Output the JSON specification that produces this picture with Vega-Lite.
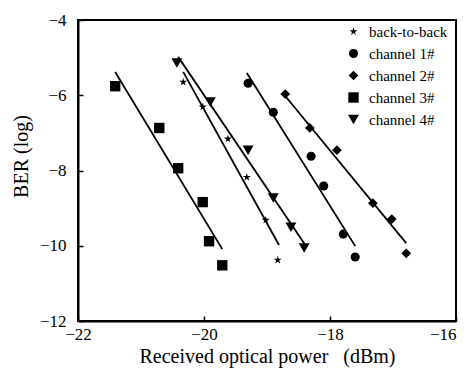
{
  "$schema": "https://vega.github.io/schema/vega-lite/v6.json",
  "width": 378,
  "height": 301,
  "autosize": "none",
  "padding": {"left": 78, "top": 20, "right": 12, "bottom": 47},
  "background": "white",
  "config": {
    "font": "Liberation Serif",
    "view": {"stroke": "black", "strokeWidth": 2},
    "axis": {
      "labelFont": "Liberation Serif",
      "titleFont": "Liberation Serif",
      "labelFontSize": 17,
      "titleFontSize": 20,
      "titleFontWeight": "normal",
      "labelColor": "black",
      "titleColor": "black",
      "domainColor": "black",
      "domainWidth": 2,
      "tickColor": "black",
      "tickWidth": 1.5,
      "labelFlush": false,
      "grid": false
    },
    "legend": {
      "labelFont": "Liberation Serif",
      "labelFontSize": 15,
      "labelColor": "black"
    }
  },
  "datasets": {
    "pts": [
      {"series": "back-to-back", "power": -20.33, "ber": -5.65},
      {"series": "back-to-back", "power": -20.02, "ber": -6.31},
      {"series": "back-to-back", "power": -19.62, "ber": -7.16},
      {"series": "back-to-back", "power": -19.32, "ber": -8.18},
      {"series": "back-to-back", "power": -19.02, "ber": -9.32},
      {"series": "back-to-back", "power": -18.83, "ber": -10.38},
      {"series": "channel 1#", "power": -19.30, "ber": -5.68},
      {"series": "channel 1#", "power": -18.90, "ber": -6.45},
      {"series": "channel 1#", "power": -18.30, "ber": -7.62},
      {"series": "channel 1#", "power": -18.10, "ber": -8.41},
      {"series": "channel 1#", "power": -17.79, "ber": -9.69},
      {"series": "channel 1#", "power": -17.60, "ber": -10.30},
      {"series": "channel 2#", "power": -18.71, "ber": -5.97},
      {"series": "channel 2#", "power": -18.32, "ber": -6.87},
      {"series": "channel 2#", "power": -17.89, "ber": -7.46},
      {"series": "channel 2#", "power": -17.32, "ber": -8.87},
      {"series": "channel 2#", "power": -17.02, "ber": -9.29},
      {"series": "channel 2#", "power": -16.79, "ber": -10.20},
      {"series": "channel 3#", "power": -21.41, "ber": -5.76},
      {"series": "channel 3#", "power": -20.71, "ber": -6.87},
      {"series": "channel 3#", "power": -20.41, "ber": -7.94},
      {"series": "channel 3#", "power": -20.02, "ber": -8.84},
      {"series": "channel 3#", "power": -19.92, "ber": -9.88},
      {"series": "channel 3#", "power": -19.71, "ber": -10.52},
      {"series": "channel 4#", "power": -20.43, "ber": -5.14},
      {"series": "channel 4#", "power": -19.90, "ber": -6.18},
      {"series": "channel 4#", "power": -19.30, "ber": -7.46},
      {"series": "channel 4#", "power": -18.90, "ber": -8.73},
      {"series": "channel 4#", "power": -18.62, "ber": -9.51},
      {"series": "channel 4#", "power": -18.41, "ber": -10.06}
    ],
    "fits": [
      {"series": "back-to-back", "power": -20.33, "ber": -5.38},
      {"series": "back-to-back", "power": -18.81, "ber": -9.98},
      {"series": "channel 1#", "power": -19.32, "ber": -5.41},
      {"series": "channel 1#", "power": -17.60, "ber": -10.01},
      {"series": "channel 2#", "power": -18.75, "ber": -5.94},
      {"series": "channel 2#", "power": -16.79, "ber": -9.93},
      {"series": "channel 3#", "power": -21.41, "ber": -5.38},
      {"series": "channel 3#", "power": -19.71, "ber": -10.09},
      {"series": "channel 4#", "power": -20.41, "ber": -4.98},
      {"series": "channel 4#", "power": -18.40, "ber": -9.96}
    ]
  },
  "layer": [
    {
      "data": {"name": "fits"},
      "mark": {"type": "line", "color": "black", "strokeWidth": 1.8},
      "encoding": {
        "x": {"field": "power", "type": "quantitative"},
        "y": {"field": "ber", "type": "quantitative"},
        "detail": {"field": "series"}
      }
    },
    {
      "data": {"name": "pts"},
      "mark": {"type": "point", "filled": true, "color": "black", "opacity": 1},
      "encoding": {
        "x": {
          "field": "power", "type": "quantitative",
          "scale": {"domain": [-22, -16], "nice": false, "zero": false},
          "axis": {
            "values": [-22, -20, -18, -16], "format": "d",
            "title": "Received optical power\u00a0\u00a0 (dBm)",
            "tickSize": -5, "labelPadding": 10,
            "labelAlign": {"condition": {"test": "datum.value >= -16", "value": "right"}, "value": "center"},
            "labelDx": {"condition": {"test": "datum.value >= -16", "value": 1}, "value": -4},
            "titleBaseline": "alphabetic", "titleY": 41, "titleColor": "black"
          }
        },
        "y": {
          "field": "ber", "type": "quantitative",
          "scale": {"domain": [-12, -4], "nice": false, "zero": false},
          "axis": {"values": [-12, -10, -8, -6, -4], "format": "d", "title": "BER (log)", "tickSize": -5, "labelPadding": 17, "titlePadding": 8, "titleY": 136, "titleColor": "black"}
        },
        "shape": {
          "field": "series", "type": "nominal",
          "scale": {
            "domain": ["back-to-back", "channel 1#", "channel 2#", "channel 3#", "channel 4#"],
            "range": [
              "M0,-1L0.2245,-0.309L0.951,-0.309L0.363,0.118L0.588,0.809L0,0.382L-0.588,0.809L-0.363,0.118L-0.951,-0.309L-0.2245,-0.309Z",
              "circle", "diamond", "square", "triangle-down"
            ]
          },
          "legend": {
            "title": null, "orient": "none", "legendX": 268, "legendY": 4,
            "rowPadding": 5, "labelOffset": 8, "padding": 0
          }
        },
        "size": {
          "field": "series", "type": "nominal",
          "scale": {
            "domain": ["back-to-back", "channel 1#", "channel 2#", "channel 3#", "channel 4#"],
            "range": [70, 120, 35, 75, 100]
          },
          "legend": {
            "title": null, "orient": "none", "legendX": 268, "legendY": 4,
            "rowPadding": 5, "labelOffset": 8, "padding": 0
          }
        }
      }
    }
  ]
}
